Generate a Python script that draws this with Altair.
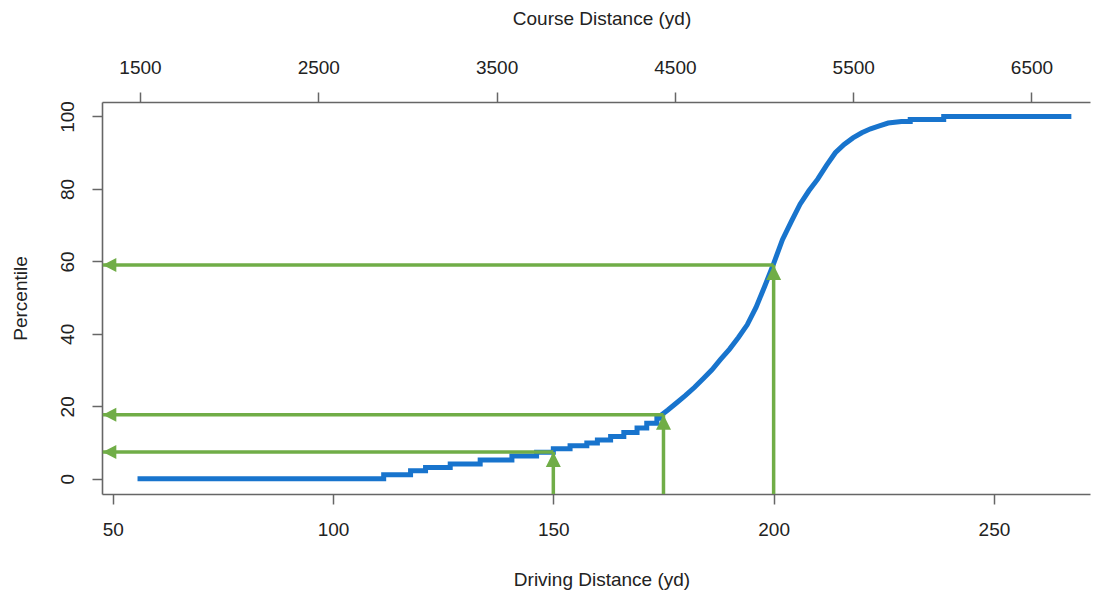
import altair as alt
import pandas as pd

# ---- data ----
drive = [56.2, 111.5, 111.5, 117.6, 117.6, 121.0, 121.0, 126.6, 126.6, 133.4, 133.4,
         140.6, 140.6, 146.2, 146.2, 150.0, 150.0, 153.8, 153.8, 157.6, 157.6,
         160.0, 160.0, 163.0, 163.0, 166.0, 166.0, 169.0, 169.0, 171.2, 171.2,
         173.5, 173.5, 174.6, 174.6,
         176, 178, 180, 182, 184, 186, 188, 190, 192, 194, 196, 198, 200, 202,
         204, 206, 208, 210, 212, 214, 216, 218, 220, 222, 224, 226,
         229, 231, 231, 238.6, 238.6, 267.0]
pct = [0, 0, 1.1, 1.1, 2.2, 2.2, 3.1, 3.1, 4.1, 4.1, 5.2,
       5.2, 6.3, 6.3, 7.3, 7.3, 8.3, 8.3, 9.1, 9.1, 9.9,
       9.9, 10.7, 10.7, 11.7, 11.7, 12.8, 12.8, 14.0, 14.0, 15.3,
       15.3, 16.7, 16.7, 17.7,
       19.0, 21.0, 23.0, 25.2, 27.6, 30.1, 33.0, 35.8, 39.0, 42.5, 47.3, 53.2, 59.4, 66.0,
       71.0, 75.8, 79.5, 82.7, 86.5, 90.0, 92.3, 94.1, 95.5, 96.6, 97.4, 98.2,
       98.6, 98.6, 99.2, 99.2, 100, 100]

arrow_drive = [150, 175, 200]
arrow_pct = [7.4, 17.7, 59.0]
arrow_left = 47.75          # where the horizontal arrows end (driving distance)
arrow_base = -4.2           # where the vertical arrows start (percentile)

drive_ticks = [50, 100, 150, 200, 250]
course_ticks = [1500, 2500, 3500, 4500, 5500, 6500]
pct_ticks = [0, 20, 40, 60, 80, 100]

BLUE = "#1874CD"
GREEN = "#70AD47"
FONT = "Liberation Sans"
AXIS_GRAY = "#666666"
TEXT = "#222222"

curve = pd.DataFrame({"drive": drive, "pct": pct, "order": list(range(len(drive)))})
arrows = pd.DataFrame({
    "drive": arrow_drive,
    "pct": arrow_pct,
    "left": [arrow_left] * len(arrow_drive),
    "base": [arrow_base] * len(arrow_drive),
})
course_df = pd.DataFrame({"course": course_ticks, "pct": [0] * len(course_ticks)})

x_scale = alt.Scale(domain=[47.57, 271.8], nice=False, zero=False)
y_scale = alt.Scale(domain=[-4.2, 104.0], nice=False, zero=False)
top_scale = alt.Scale(domain=[1286.9, 6828.1], nice=False, zero=False)

common = dict(
    grid=False, domain=True, domainColor=AXIS_GRAY, domainWidth=1.6,
    ticks=True, tickColor=AXIS_GRAY, tickWidth=1.5, tickSize=10,
    labelFont=FONT, labelFontSize=19, labelColor=TEXT, labelFlush=False,
    labelOverlap=False, titleFont=FONT, titleFontSize=19, titleColor=TEXT,
    titleFontWeight="normal",
)

x_axis = alt.Axis(orient="bottom", values=drive_ticks, title="Driving Distance (yd)",
                  labelPadding=16, titleX=499.5, titleY=91.3, titleAlign="center",
                  titleBaseline="alphabetic", format="d", **common)
y_axis = alt.Axis(orient="left", values=pct_ticks, title="Percentile",
                  labelAngle=270, labelAlign="center", labelBaseline="bottom",
                  labelPadding=14.5, titleAngle=270, titleX=-75.3, titleY=196,
                  titleAlign="center", titleBaseline="alphabetic", format="d", **common)
top_axis = alt.Axis(orient="top", values=course_ticks, title="Course Distance (yd)",
                    labelPadding=14.5, titleX=499.5, titleY=-77.4, titleAlign="center",
                    titleBaseline="alphabetic", format="d", **common)

X = alt.X("drive:Q", scale=x_scale, axis=x_axis)
Y = alt.Y("pct:Q", scale=y_scale, axis=y_axis)

line = alt.Chart(curve).mark_line(color=BLUE, strokeWidth=5, strokeCap="square",
                                  strokeJoin="miter").encode(x=X, y=Y, order="order:Q")

vrules = alt.Chart(arrows).mark_rule(color=GREEN, strokeWidth=3.5).encode(
    x=X, y=alt.Y("base:Q", scale=y_scale, axis=y_axis), y2="pct:Q")
hrules = alt.Chart(arrows).mark_rule(color=GREEN, strokeWidth=3.5).encode(
    x=alt.X("left:Q", scale=x_scale, axis=x_axis), x2="drive:Q", y=Y)

up_heads = alt.Chart(arrows).mark_point(
    shape="M0,0L-0.5,1L0.5,1Z", filled=True, size=900, color=GREEN, opacity=1, strokeWidth=0
).encode(x=X, y=Y)
left_heads = alt.Chart(arrows).mark_point(
    shape="M0,0L1,-0.52L1,0.52Z", filled=True, size=729, color=GREEN, opacity=1, strokeWidth=0
).encode(x=alt.X("left:Q", scale=x_scale, axis=x_axis), y=Y)

main = alt.layer(line, vrules, hrules, up_heads, left_heads)

top = alt.Chart(course_df).mark_point(opacity=0).encode(
    x=alt.X("course:Q", scale=top_scale, axis=top_axis),
    y=Y,
)

chart = alt.layer(main, top).resolve_scale(x="independent").properties(
    width=988, height=392,
    padding={"left": 94, "top": 94, "right": 1, "bottom": 96},
    autosize=alt.AutoSizeParams(type="none"),
    background="white",
).configure_view(stroke=None)

chart.save("out.html", embed_options={"renderer": "svg", "actions": False})
